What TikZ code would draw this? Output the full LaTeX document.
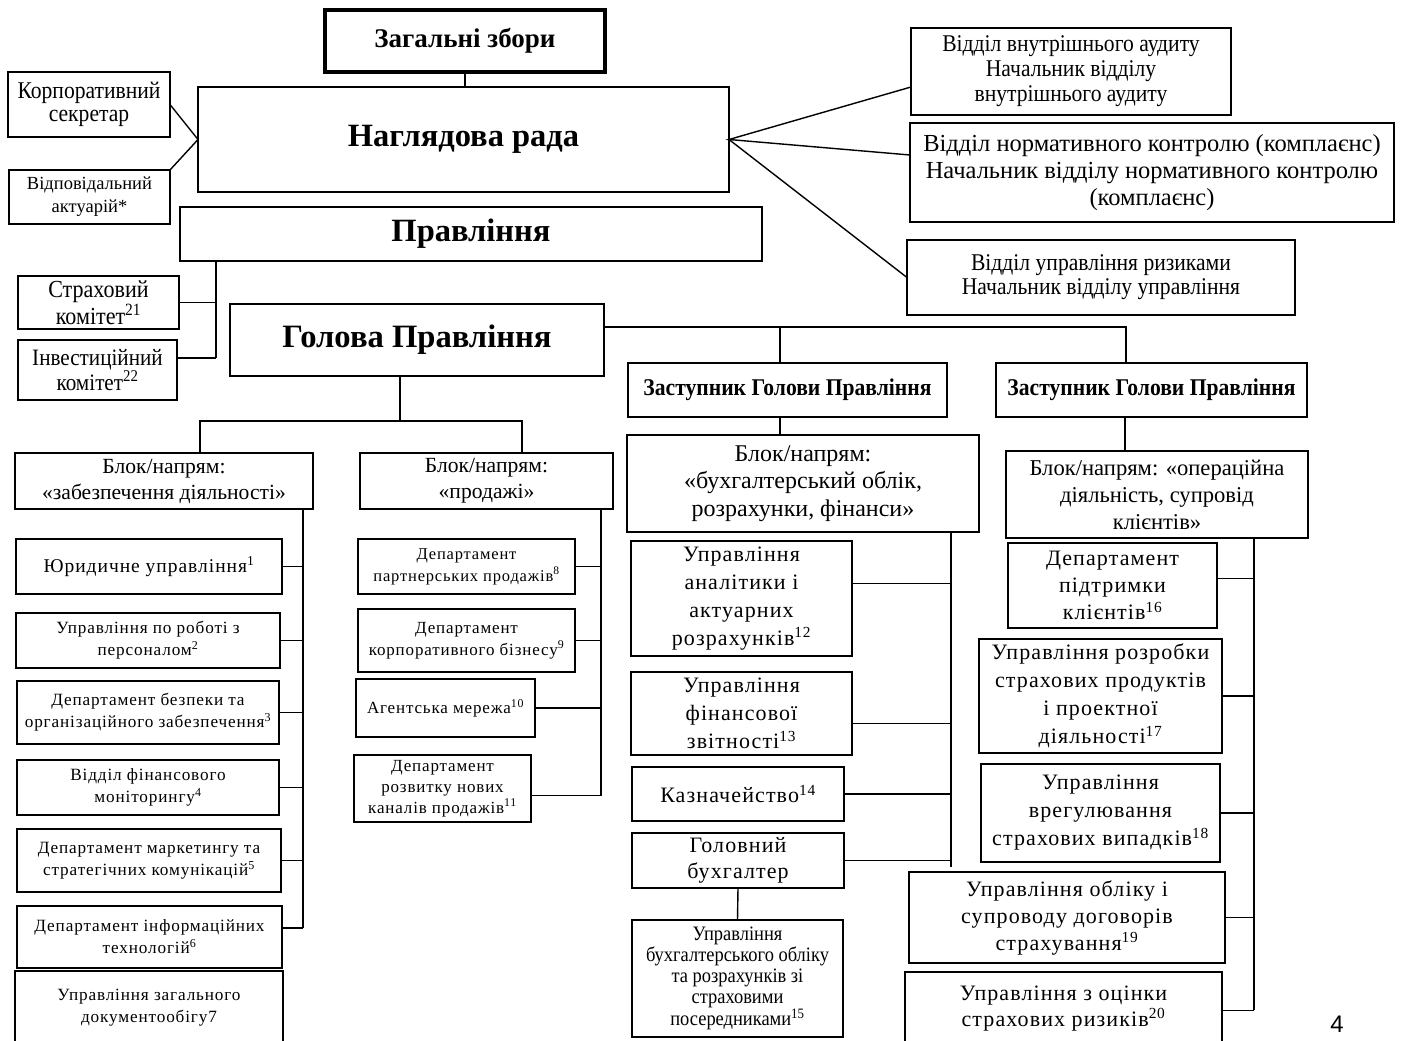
\documentclass[tikz,border=0pt]{standalone}
\usepackage{fontspec}
\setmainfont{Liberation Serif}
\setsansfont{Liberation Sans}
\newfontfamily\nrw[FakeStretch=0.9]{Liberation Serif}
\newfontfamily\wde[LetterSpace=5]{Liberation Serif}
\newcommand\F[2]{\fontsize{#1}{#2}\selectfont}
\newcommand\B[7]{\node[bx,minimum width={(#4-#2)*1pt},minimum height={(#5-#3)*1pt},#6] (#1) at ({(#2+#4)/2},{(#3+#5)/2}) {#7};}
\begin{document}
\begin{tikzpicture}[x=1pt,y=-1pt,
  bx/.style={draw,line width=1.4pt,inner sep=0pt,outer sep=0pt,align=center},
  ln/.style={line width=1.4pt}]
\useasboundingbox[fill=white] (0,0) rectangle (1401,1041);
% top
\B{zag}{325}{10}{605}{72}{line width=3.5pt,font=\F{27}{30}\bfseries}{Загальні збори}
\B{nag}{198}{87}{729}{192}{font=\F{32.5}{36}\bfseries}{Наглядова рада}
\B{sek}{8}{72}{170}{137}{font=\F{24}{23}\nrw}{Корпоративний\\секретар}
\B{act}{9}{170}{170}{224}{font=\F{18.5}{23}}{Відповідальний\\актуарій*}
\B{pr}{180}{207}{762}{261}{font=\F{32.5}{36}\bfseries}{Правління}
\B{str}{18}{276}{179}{329}{font=\F{24.5}{25}\nrw}{Страховий\\комітет\textsuperscript{21}}
\B{inv}{18}{340}{177}{400}{font=\F{23.5}{24}\nrw}{Інвестиційний\\комітет\textsuperscript{22}}
\B{hol}{230}{304}{604}{376}{font=\F{32.6}{36}\bfseries}{Голова Правління}
\B{aud}{911}{28}{1231}{115}{font=\F{24}{25}\nrw}{Відділ внутрішнього аудиту\\Начальник відділу\\внутрішнього аудиту}
\B{norm}{910}{123}{1394}{222}{font=\F{24.5}{27}}{Відділ нормативного контролю (комплаєнс)\\Начальник відділу нормативного контролю\\(комплаєнс)}
\B{risk}{907}{240}{1295}{315}{font=\F{24}{24}\nrw}{Відділ управління ризиками\\Начальник відділу управління}
\B{za}{628}{363}{947}{417}{font=\F{24}{24}\bfseries\nrw}{Заступник Голови Правління}
\B{zb}{996}{363}{1307}{417}{font=\F{24}{24}\bfseries\nrw}{Заступник Голови Правління}
% blocks
\B{zab}{15}{453}{313}{509}{font=\F{21.6}{26}}{Блок/напрям:\\«забезпечення діяльності»}
\B{prod}{360}{453}{613}{509}{font=\F{21.6}{26}}{Блок/напрям:\\«продажі»}
\B{bux}{627}{435}{979}{532}{font=\F{24}{27.5}}{Блок/напрям:\\«бухгалтерський облік,\\розрахунки, фінанси»}
\B{oper}{1006}{451}{1308}{538}{font=\F{22.6}{27}}{Блок/напрям: «операційна\\діяльність, супровід\\клієнтів»}
% left column
\B{yur}{16}{539}{282}{594}{font=\F{19.5}{24}\wde}{Юридичне управління\textsuperscript{1}}
\B{pers}{16}{613}{280}{668}{font=\F{17.2}{22}\wde}{Управління по роботі з\\персоналом\textsuperscript{2}}
\B{bez}{17}{681}{279}{744}{font=\F{17.2}{22}\wde}{Департамент безпеки та\\організаційного забезпечення\textsuperscript{3}}
\B{fmon}{17}{760}{279}{815}{font=\F{17.2}{22}\wde}{Відділ фінансового\\моніторингу\textsuperscript{4}}
\B{mark}{17}{829}{281}{892}{font=\F{17.2}{22}\wde}{Департамент маркетингу та\\стратегічних комунікацій\textsuperscript{5}}
\B{it}{17}{906}{282}{968}{font=\F{17.2}{22}\wde}{Департамент інформаційних\\технологій\textsuperscript{6}}
\B{doc}{15}{971}{283}{1045}{font=\F{17.2}{22}\wde}{Управління загального\\документообігу7}
% sales column
\B{part}{358}{539}{575}{594}{font=\F{16.5}{22}\wde}{Департамент\\партнерських продажів\textsuperscript{8}}
\B{korp}{358}{609}{575}{672}{font=\F{17}{22}\wde}{Департамент\\корпоративного бізнесу\textsuperscript{9}}
\B{agen}{356}{679}{535}{737}{font=\F{17}{22}\wde}{Агентська мережа\textsuperscript{10}}
\B{rozv}{354}{755}{531}{822}{font=\F{17}{21}\wde}{Департамент\\розвитку нових\\каналів продажів\textsuperscript{11}}
% accounting column
\B{anal}{631}{538}{852}{653}{font=\F{22}{28}\wde,yshift=-3pt}{Управління\\аналітики і\\актуарних\\розрахунків\textsuperscript{12}}
\B{fzv}{631}{672}{852}{755}{font=\F{22}{28}\wde}{Управління\\фінансової\\звітності\textsuperscript{13}}
\B{kazn}{632}{767}{844}{821}{font=\F{22}{28}\wde}{Казначейство\textsuperscript{14}}
\B{gbux}{632}{833}{844}{888}{font=\F{22}{26}\wde}{Головний\\бухгалтер}
\B{ubo}{632}{920}{843}{1037}{font=\F{20.5}{21}\nrw}{Управління\\бухгалтерського обліку\\та розрахунків зі\\страховими\\посередниками\textsuperscript{15}}
% operations column
\B{pidt}{1008}{543}{1217}{628}{font=\F{22}{27}\wde}{Департамент\\підтримки\\клієнтів\textsuperscript{16}}
\B{rozr}{979}{639}{1222}{753}{font=\F{22}{28}\wde}{Управління розробки\\страхових продуктів\\і проектної\\діяльності\textsuperscript{17}}
\B{vreg}{981}{764}{1220}{862}{font=\F{22}{28}\wde}{Управління\\врегулювання\\страхових випадків\textsuperscript{18}}
\B{obl}{909}{872}{1225}{963}{font=\F{22}{27}\wde}{Управління обліку і\\супроводу договорів\\страхування\textsuperscript{19}}
\B{ocin}{905}{972}{1222}{1045}{font=\F{22}{26}\wde}{Управління з оцінки\\страхових ризиків\textsuperscript{20}}
\node[font=\F{24}{28}\sffamily] (pg) at (1337,1024) {4};
% connectors
\draw[ln] (zag.south) -- (zag.south |- nag.north);
\draw[ln] (sek.east) -- (nag.west) -- (act.north east);
\coordinate (audin) at ([yshift=-15.5pt]aud.west);
\coordinate (normin) at ([yshift=17.5pt]norm.west);
\draw[ln] (audin) -- (nag.east) -- (normin);
\draw[ln] (nag.east) -- (risk.west);
\coordinate (pb) at (216,261);
\coordinate (invin) at ([yshift=12pt]inv.east);
\draw[ln] (pb) -- (pb |- invin);
\draw[ln] (str.east) -- (str.east -| pb);
\draw[ln] (invin) -- (invin -| pb);
\coordinate (hb) at (1126,327);
\coordinate (ha) at (780,327);
\draw[ln] (hol.east |- hb) -- (hb) -- (hb |- zb.north);
\draw[ln] (ha) -- (ha |- za.north);
\coordinate (gb) at (400,421);
\coordinate (gl) at (200,421);
\coordinate (gr) at (522,421);
\draw[ln] (gb |- hol.south) -- (gb);
\draw[ln] (gl |- zab.north) -- (gl) -- (gr) -- (gr |- prod.north);
% bus: zabezpechennia
\coordinate (b1) at (303,509);
\coordinate (itin) at ([yshift=9pt]it.east);
\draw[ln] (b1) -- (b1 |- itin);
\foreach \n in {yur,pers,bez,fmon,mark} \draw[ln] (\n.east) -- (\n.east -| b1);
\draw[ln] (itin) -- (itin -| b1);
% bus: prodazhi
\coordinate (b2) at (601,509);
\coordinate (rozvin) at ([yshift=-7pt]rozv.east);
\draw[ln] (b2) -- (b2 |- rozvin);
\foreach \n in {part,korp,agen} \draw[ln] (\n.east) -- (\n.east -| b2);
\draw[ln] (rozvin) -- (rozvin -| b2);
% bus: accounting
\coordinate (c1) at (780,0);
\draw[ln] (c1 |- za.south) -- (c1 |- bux.north);
\coordinate (b3) at (951,532);
\coordinate (analin) at ([yshift=15pt]anal.east);
\coordinate (fzvin) at ([yshift=-10pt]fzv.east);
\draw[ln] (b3) -- (951,867);
\draw[ln] (analin) -- (analin -| b3);
\draw[ln] (fzvin) -- (fzvin -| b3);
\draw[ln] (kazn.east) -- (kazn.east -| b3);
\draw[ln] (gbux.east) -- (gbux.east -| b3);
\draw[ln] (gbux.south) -- (ubo.north);
% bus: operations
\coordinate (c2) at (1125,0);
\draw[ln] (c2 |- zb.south) -- (c2 |- oper.north);
\coordinate (b4) at (1254,538);
\coordinate (pidtin) at ([yshift=7pt]pidt.east);
\coordinate (ocinin) at ([yshift=-2pt]ocin.east);
\draw[ln] (b4) -- (1254,1010);
\draw[ln] (pidtin) -- (pidtin -| b4);
\foreach \n in {rozr,vreg,obl} \draw[ln] (\n.east) -- (\n.east -| b4);
\draw[ln] (ocinin) -- (ocinin -| b4);
\end{tikzpicture}
\end{document}
